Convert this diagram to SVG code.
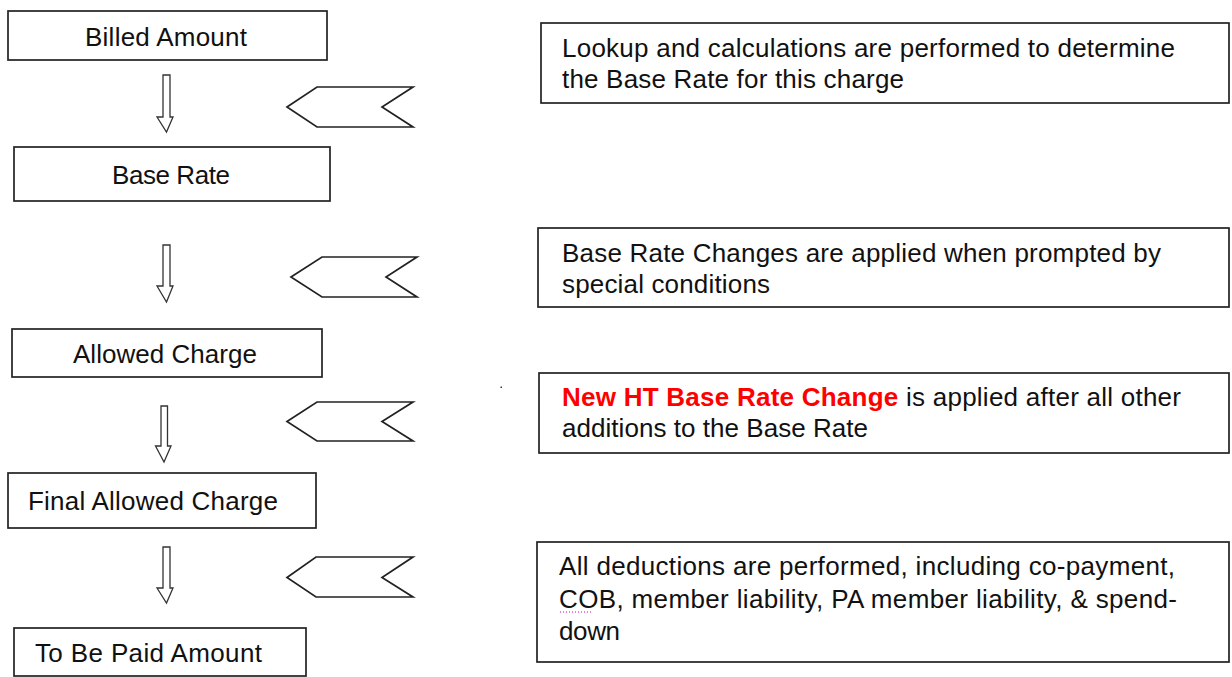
<svg xmlns="http://www.w3.org/2000/svg" width="1232" height="677" viewBox="0 0 1232 677">
<style>
.box{fill:#fff;stroke:#222;stroke-width:1.7}
.arr{fill:#fff;stroke:#333;stroke-width:1.3;stroke-linejoin:miter}
.chev{fill:#fff;stroke:#222;stroke-width:1.7;stroke-linejoin:miter}
text{font-family:"Liberation Sans",Arial,sans-serif;font-size:26px;fill:#111}
.red{fill:#ff0000;font-weight:bold}
</style>
<rect width="1232" height="677" fill="#fff"/>
<g id="billed"><rect class="box" x="8" y="11" width="319" height="49"/><text x="85" y="46" textLength="162" lengthAdjust="spacing">Billed Amount</text></g>
<g id="base"><rect class="box" x="14" y="147" width="316" height="54"/><text x="112" y="184" textLength="118" lengthAdjust="spacing">Base Rate</text></g>
<g id="allowed"><rect class="box" x="12" y="329" width="310" height="48"/><text x="73" y="363" textLength="184" lengthAdjust="spacing">Allowed Charge</text></g>
<g id="final"><rect class="box" x="8" y="473" width="308" height="55"/><text x="28" y="510" textLength="250" lengthAdjust="spacing">Final Allowed Charge</text></g>
<g id="tobepaid"><rect class="box" x="14" y="628" width="292" height="48"/><text x="35" y="662" textLength="227" lengthAdjust="spacing">To Be Paid Amount</text></g>
<g id="note1"><rect class="box" x="541" y="23" width="688" height="80"/><text x="562" y="57" textLength="613" lengthAdjust="spacing">Lookup and calculations are performed to determine</text><text x="562" y="88" textLength="342" lengthAdjust="spacing">the Base Rate for this charge</text></g>
<g id="note2"><rect class="box" x="538" y="228" width="691" height="79"/><text x="562" y="262" textLength="599" lengthAdjust="spacing">Base Rate Changes are applied when prompted by</text><text x="562" y="293" textLength="208" lengthAdjust="spacing">special conditions</text></g>
<g id="note3"><rect class="box" x="539" y="373" width="690" height="80"/><text x="562" y="406" textLength="619" lengthAdjust="spacing"><tspan class="red">New HT Base Rate Change</tspan> is applied after all other</text><text x="562" y="437" textLength="306" lengthAdjust="spacing">additions to the Base Rate</text></g>
<g id="note4"><rect class="box" x="537" y="542" width="692" height="120"/><text x="559" y="575" textLength="616" lengthAdjust="spacing">All deductions are performed, including co-payment,</text><text x="559" y="608" textLength="618" lengthAdjust="spacing">COB, member liability, PA member liability, &amp; spend-</text><text x="559" y="640" textLength="61" lengthAdjust="spacing">down</text><line x1="560" y1="612" x2="592" y2="612" stroke="#d000d0" stroke-width="1" stroke-dasharray="1,2"/></g>
<g id="connectors">
<path class="arr" d="M163,75 H170 V117 H173 L166.5,132 L157,117 H163 Z"/>
<path class="arr" d="M163,245 H170 V286 H173 L166.5,302 L157,286 H163 Z"/>
<path class="arr" d="M161,406 H167.5 V446 H171 L164,462 L155.5,446 H161 Z"/>
<path class="arr" d="M163,547 H170 V588 H173 L166.5,603 L157,588 H163 Z"/>
<path class="chev" d="M287,107 L317,87 H413 L382,107 L413,127 H317 Z"/>
<path class="chev" d="M291,277 L322,257 H417 L386,277 L417,297 H322 Z"/>
<path class="chev" d="M287,421.5 L317,402 H413 L382,421.5 L413,441 H317 Z"/>
<path class="chev" d="M287,577.5 L316,557 H413 L382,577.5 L413,597 H316 Z"/>
</g>
<rect x="500.5" y="386.5" width="1.5" height="1.5" fill="#333"/>
</svg>
